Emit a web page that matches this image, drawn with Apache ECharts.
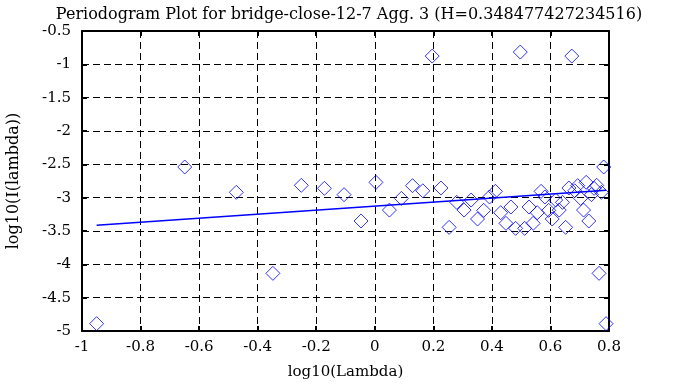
<!DOCTYPE html>
<html><head><meta charset="utf-8">
<script src="https://cdn.jsdelivr.net/npm/echarts@6/dist/echarts.min.js"></script>
<style>html,body{margin:0;padding:0;background:#fff}#c{width:688px;height:387px}</style>
</head><body><div id="c"></div>
<script>
const titleText = 'Periodogram Plot for bridge-close-12-7 Agg. 3 (H=0.348477427234516)';
const xName = 'log10(Lambda)';
const yName = 'log10(I(lambda))';
const logLambda = [-0.950,-0.649,-0.473,-0.348,-0.251,-0.172,-0.105,-0.047,0.004,0.050,
  0.091,0.129,0.164,0.196,0.226,0.254,0.280,0.305,0.329,0.351,
  0.372,0.392,0.412,0.430,0.448,0.465,0.481,0.497,0.512,0.527,
  0.541,0.555,0.568,0.581,0.594,0.606,0.618,0.630,0.641,0.652,
  0.663,0.673,0.683,0.693,0.703,0.713,0.722,0.731,0.740,0.749,
  0.758,0.766,0.774,0.782,0.790];
const logI = [-4.89,-2.54,-2.92,-4.135,-2.815,-2.86,-2.955,-3.35,-2.77,-3.186,
  -3.011,-2.82,-2.897,-0.876,-2.855,-3.445,-3.07,-3.186,-3.036,-3.32,
  -3.19,-2.99,-2.905,-3.226,-3.385,-3.14,-3.46,-0.816,-3.46,-3.14,
  -3.385,-3.226,-2.905,-2.99,-3.19,-3.32,-3.036,-3.186,-3.07,-3.445,
  -2.855,-0.876,-2.897,-2.82,-3.011,-3.186,-2.77,-3.35,-2.955,-2.86,
  -2.815,-4.135,-2.92,-2.54,-4.89];
const fitX = [-0.950, 0.790];
const fitY = [-3.415, -2.888];
const xTicks = [-1,-0.8,-0.6,-0.4,-0.2,0,0.2,0.4,0.6,0.8];
const yTicks = [-5,-4.5,-4,-3.5,-3,-2.5,-2,-1.5,-1,-0.5];

const pts = logLambda.map((x,i)=>[x, logI[i]]);
const fit = fitX.map((x,i)=>[x, fitY[i]]);
const font = '"DejaVu Serif",serif';
const fmt = v => String(Math.round(v*10)/10);
const baseAxisLine = {show:true, onZero:false, lineStyle:{color:'#000', width:2}};
const tick = {show:true, inside:true, length:5, lineStyle:{color:'#000', width:2}};
const chart = echarts.init(document.getElementById('c'), null, {renderer:'canvas'});
chart.setOption({
  animation:false,
  backgroundColor:'#fff',
  title:{text:titleText, left:344, top:2, textAlign:'center',
    textStyle:{fontFamily:font, fontSize:16, fontWeight:'normal', color:'#000'}},
  grid:{left:82, right:79, top:31, bottom:56, containLabel:false, outerBoundsMode:'none'},
  xAxis:[{type:'value', min:-1, max:0.8, interval:0.2, position:'bottom',
    name:xName, nameLocation:'middle', nameGap:34,
    nameTextStyle:{fontFamily:font, fontSize:15, color:'#000'},
    axisLine:baseAxisLine, axisTick:tick,
    axisLabel:{fontFamily:font, fontSize:15, color:'#000', margin:9, formatter:fmt},
    splitLine:{show:true, lineStyle:{color:'#000', type:[7,4], width:1}}},
   {type:'value', min:-1, max:0.8, interval:0.2, position:'top',
    axisLine:baseAxisLine, axisTick:tick, axisLabel:{show:false}, splitLine:{show:false}}],
  yAxis:[{type:'value', min:-5, max:-0.5, interval:0.5, position:'left',
    name:yName, nameLocation:'middle', nameGap:60, nameRotate:90,
    nameTextStyle:{fontFamily:font, fontSize:16, color:'#000'},
    axisLine:baseAxisLine, axisTick:tick,
    axisLabel:{fontFamily:font, fontSize:15, color:'#000', margin:11, formatter:fmt},
    splitLine:{show:true, lineStyle:{color:'#000', type:[7,4], width:1}}},
   {type:'value', min:-5, max:-0.5, interval:0.5, position:'right',
    axisLine:baseAxisLine, axisTick:tick, axisLabel:{show:false}, splitLine:{show:false}}],
  series:[
    {type:'scatter', data:pts, symbol:'diamond', symbolSize:14, xAxisIndex:0, yAxisIndex:0,
     itemStyle:{color:'rgba(0,0,0,0)', borderColor:'#0000ff', borderWidth:1}, z:3},
    {type:'line', data:fit, showSymbol:false, symbol:'none', xAxisIndex:0, yAxisIndex:0,
     lineStyle:{color:'#0000ff', width:1.5}, z:4}
  ]
});
</script></body></html>
